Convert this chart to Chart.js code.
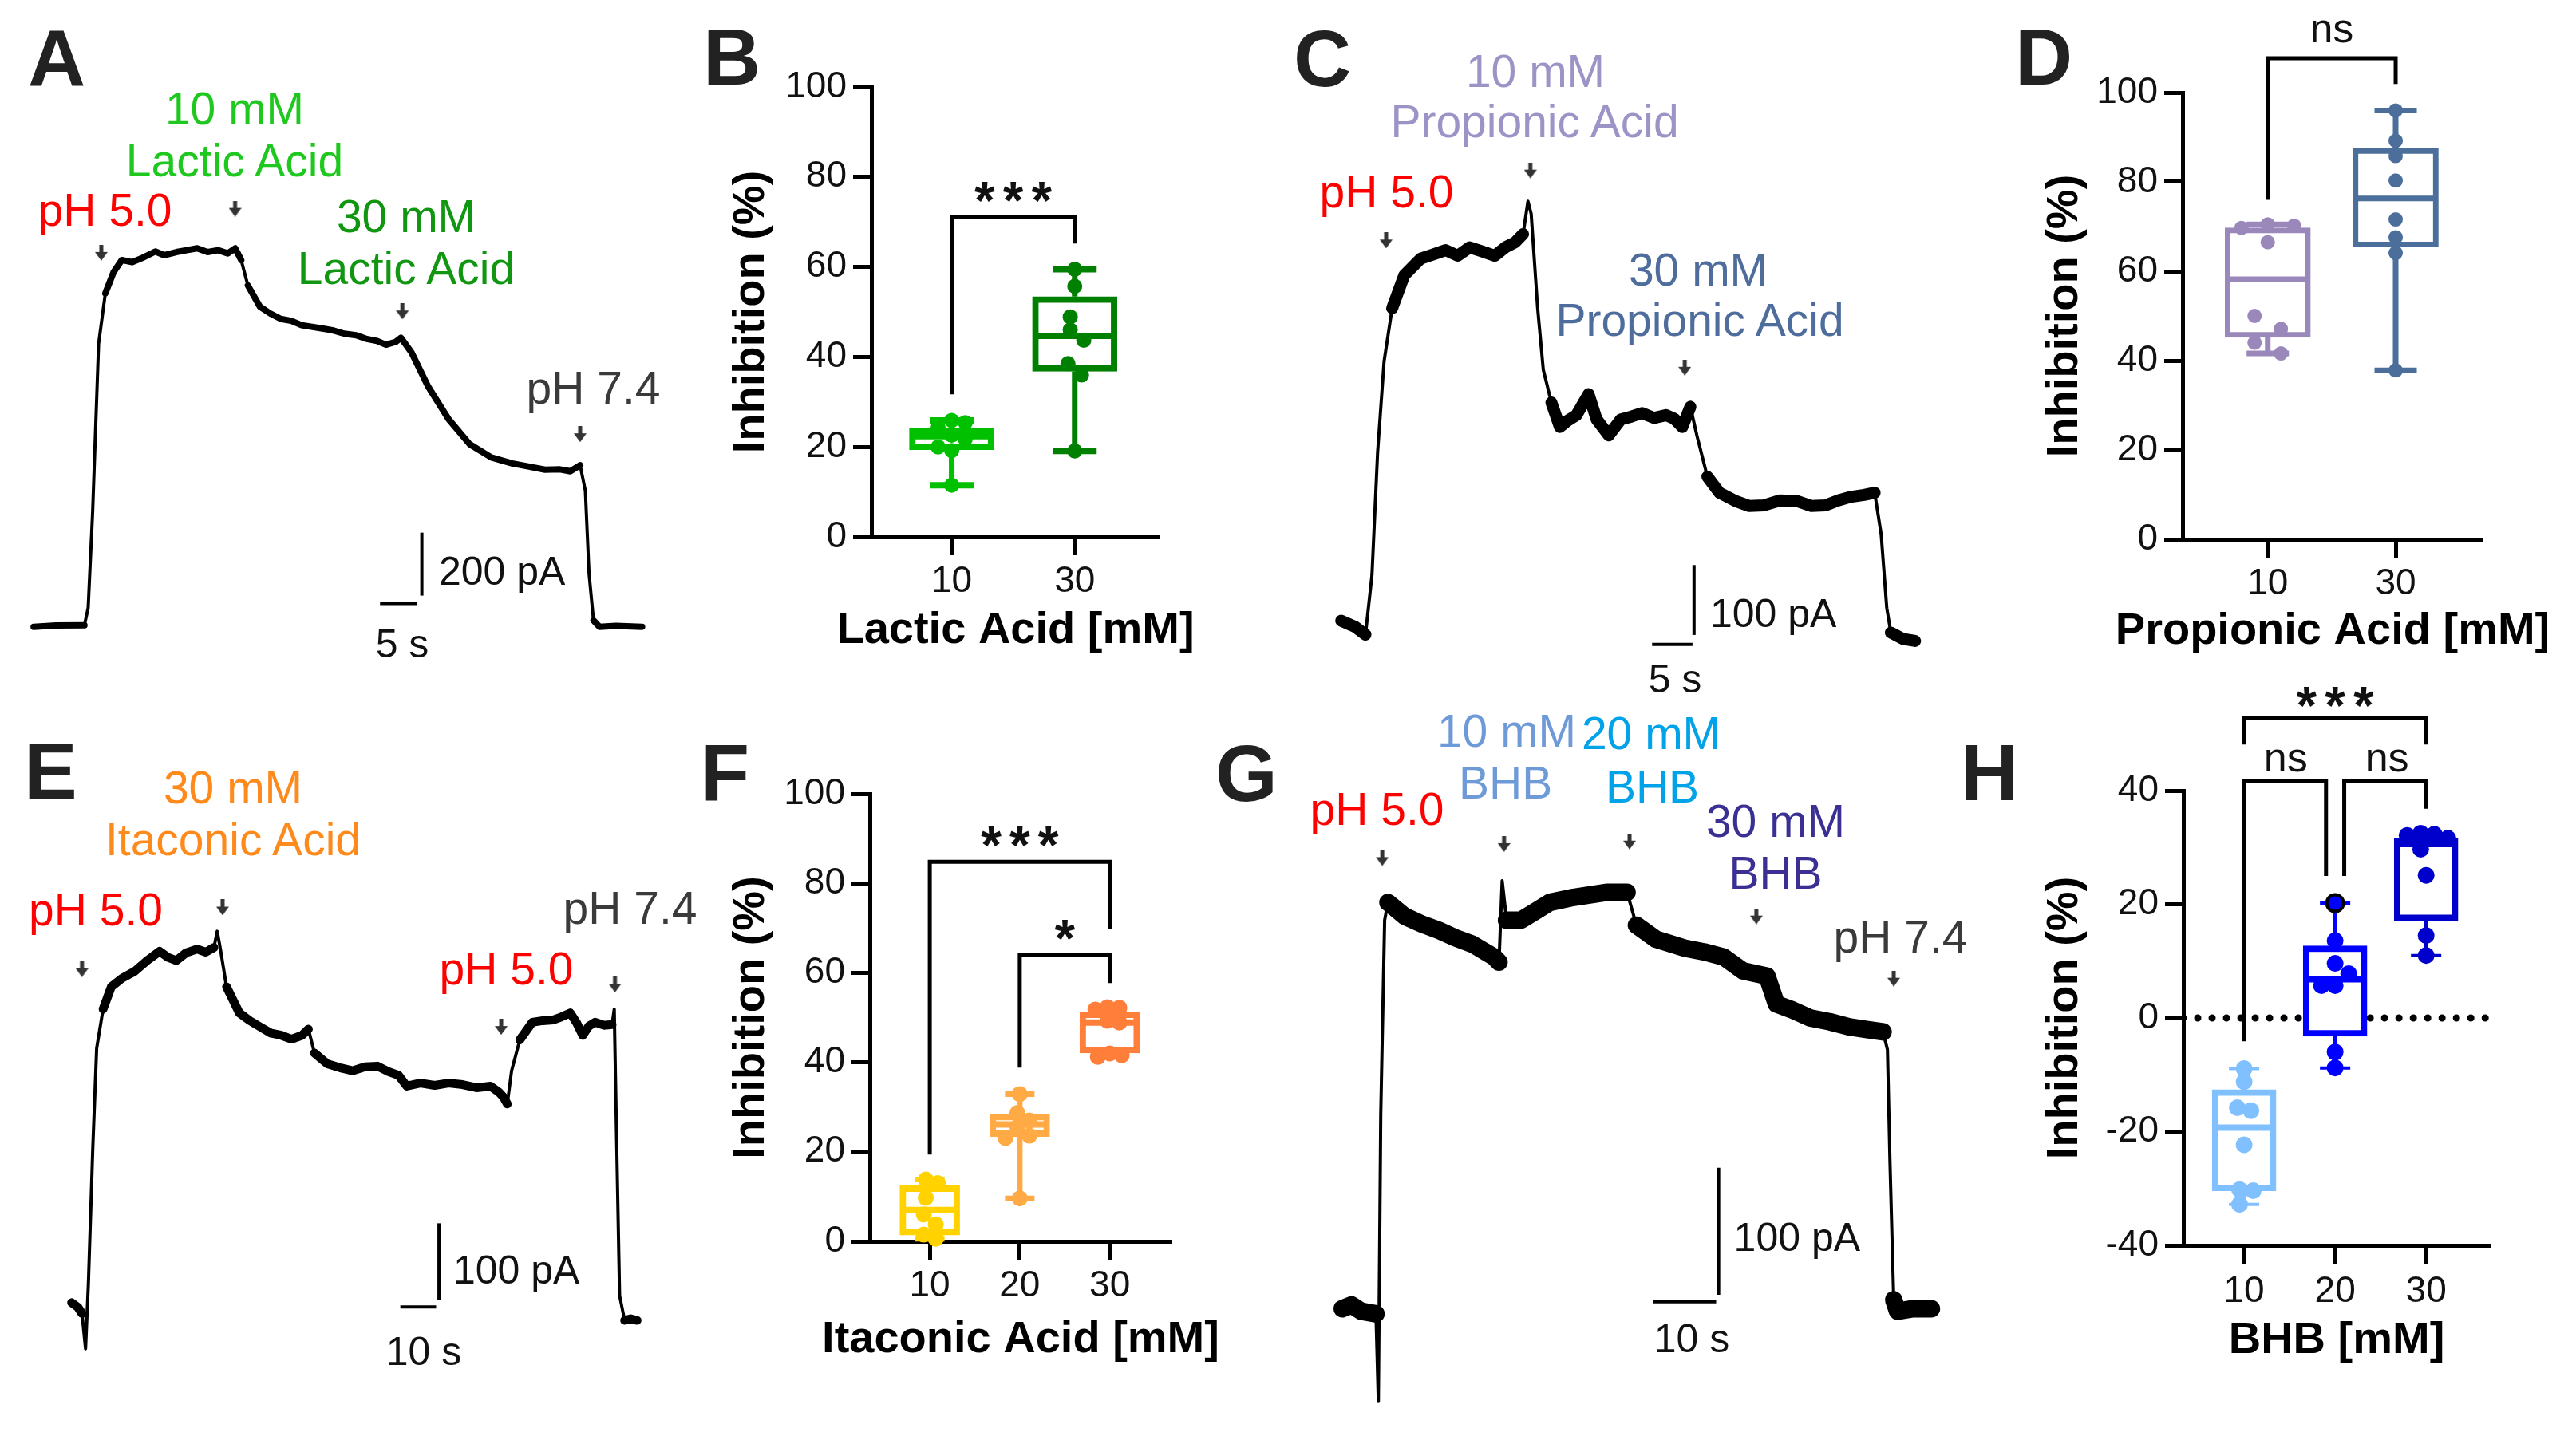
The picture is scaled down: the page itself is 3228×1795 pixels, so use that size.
<!DOCTYPE html>
<html>
<head>
<meta charset="utf-8">
<script src="https://cdn.jsdelivr.net/npm/chart.js@4.4.1/dist/chart.umd.min.js"></script>
<style>
  body { margin: 0; background: #fff; width: 3228px; height: 1795px; position: relative; overflow: hidden; }
  canvas { position: absolute; }
  .t { position: absolute; white-space: nowrap; line-height: 1; font-family: "Liberation Sans", Arial, sans-serif; }
</style>
</head>
<body>
<script>
// ---- traces: [time s, current pA] ----
const traceA = [[0,0],[3,4],[6.8,5],[7.3,60],[7.9,365],[8.7,899],[9.6,1059],[10.7,1126],[11.8,1165],[13.2,1158],[14.6,1172],[16.3,1192],[17.5,1180],[19.1,1190],[20.5,1196],[21.9,1202],[23.3,1190],[24.7,1196],[26.0,1186],[27.0,1202],[27.8,1165],[28.7,1084],[30.3,1017],[31.7,995],[33.1,978],[34.5,972],[35.9,958],[38.5,948],[40.0,942],[41.6,931],[43.2,926],[44.5,915],[46.0,908],[47.2,896],[48.5,905],[49.2,918],[50.6,872],[52.8,765],[55.6,659],[58.4,580],[61.3,538],[64.1,519],[66.5,508],[68.5,499],[70.5,500],[71.9,494],[73.2,513],[73.9,432],[74.4,168],[75.0,20],[75.8,0],[78,3],[81.5,0]];
const arrowsA = [[9.06,1188],[26.98,1328],[49.4,1002],[73.2,612]];
const barA = [[[46.4,74],[51.4,74]], [[52,99],[52,299]]];   // 5 s, 200 pA

const traceC = [[0,6],[1.75,-3],[3.0,-14],[3.8,71],[4.5,247],[5.3,377],[6.3,453],[7.8,500],[9.85,524],[11.4,530],[12.9,536],[14.4,528],[15.9,540],[17.5,534],[19.0,528],[20.3,540],[21.5,547],[22.5,559],[23.1,606],[23.5,588],[24.3,453],[25.0,365],[26.0,318],[27.05,283],[28.0,292],[29.1,300],[30.6,330],[31.6,294],[33.1,271],[34.6,294],[35.9,298],[37.2,303],[38.7,296],[40.2,300],[41.2,295],[42.2,283],[43.2,312],[44.0,271],[45.3,212],[46.8,189],[48.8,177],[50.5,170],[52.3,171],[54.3,178],[56.4,177],[58.2,170],[59.9,171],[61.5,178],[63.0,183],[64.7,186],[66.0,189],[66.8,130],[67.5,24],[68.0,-11],[69.5,-20],[71.0,-23]];
const arrowsC = [[5.55,550],[23.4,650],[42.5,368]];
const barC = [[[38.46,-27.8],[43.46,-27.8]], [[43.65,-14.4],[43.65,85.6]]];   // 5 s, 100 pA

const traceE = [[0,2],[1.76,-4],[2.9,-12],[3.9,-58],[4.7,28],[5.9,200],[7.0,332],[8.8,383],[11.1,412],[14.1,423],[17.6,432],[21.1,446],[24.6,458],[27,450],[29.3,446],[32,456],[35.1,461],[37.5,457],[39.8,463],[40.7,484],[41.6,461],[43.3,412],[46.9,378],[49.8,368],[52.7,360],[55.6,352],[58.6,349],[61.5,344],[64.4,349],[66.2,357],[67.9,326],[71.5,312],[75,307],[78.5,303],[82,308],[85.5,309],[88.5,302],[91.4,297],[93.7,283],[97.5,287],[101.5,284],[105.4,287],[109.3,285],[113.2,281],[117.1,283],[119.5,275],[120.7,269],[121.8,260],[123.0,303],[125.3,343],[128.8,366],[131.7,368],[134.7,369],[137,373],[139.4,378],[141.2,365],[142.9,349],[144.6,361],[146.4,366],[148.8,362],[151.1,363],[151.7,383],[152.3,228],[153.2,11],[154.6,-21],[156.3,-19],[158.1,-21]];
const arrowsE = [[2.9,435],[42.2,515],[120.1,360],[151.9,415]];
const barE = [[[91.9,-3.6],[101.9,-3.6]], [[102.7,5],[102.7,105]]];   // 10 s, 100 pA

const traceG = [[0,0],[1.5,3],[3.07,-2],[5.39,-4],[5.77,-73],[6.15,153],[6.77,306],[7.3,320],[10.0,309],[12.7,303],[15.4,298],[18.1,292],[20.8,287],[22.5,282],[24.2,277],[25.0,273],[25.5,337],[26.2,306],[28.5,306],[30.8,313],[33.1,320],[36.9,324],[39.6,326],[42.3,328],[45.4,328],[46.9,302],[50.0,291],[54.6,284],[57.7,281],[60.8,277],[63.9,266],[67.7,262],[69.2,240],[71.9,235],[74.6,229],[77.7,226],[80.8,222],[83.5,220],[86.2,218],[86.9,204],[87.3,116],[87.9,7],[88.5,-2],[91,0],[93.9,0]];
const arrowsG = [[6.4,355],[25.8,366],[45.8,368],[66.0,309],[87.9,260]];
const barG = [[[49.6,5.5],[59.6,5.5]], [[60.0,11],[60.0,111]]];   // 10 s, 100 pA

// ---- box plots: stats = [min, q1, median, q3, max] ----
const lacticCats = ['10', '30'];
const lacticStats = [[11.5, 19.4, 22.4, 24.1, 25.9], [19.1, 36.8, 44.7, 53.4, 59.5]];
const lacticPoints = [[25.9, 25.4, 24.3, 22.6, 21.8, 20.0, 19.2, 11.5], [59.5, 55.7, 48.9, 46.0, 43.7, 38.5, 36.0, 19.1]];
const lacticBrackets = [[1, 2, 71.0, 31.7, 65.2]];
const lacticSig = [['***', 1.5, 77.6]];

const propCats = ['10', '30'];
const propStats = [[41.6, 45.2, 58.2, 69.7, 70.5], [37.8, 65.4, 76.3, 87.5, 96.0]];
const propPoints = [[70.5, 70.2, 69.7, 66.5, 50.0, 47.1, 44.0, 41.6], [96.0, 89.2, 85.8, 80.3, 71.6, 67.6, 64.1, 37.8]];
const propBrackets = [[1, 2, 107.7, 76.0, 101.9]];
const propSig = [['ns', 1.5, 113.7]];

const itaCats = ['10', '20', '30'];
const itaStats = [[0.6, 1.4, 7.0, 12.4, 13.8], [9.6, 23.4, 26.1, 28.4, 32.9], [41.2, 42.1, 48.9, 51.3, 52.3]];
const itaPoints = [[13.8, 13.0, 9.7, 6.0, 3.8, 1.5, 0.6], [32.9, 28.7, 27.0, 25.5, 23.6, 23.1, 9.6], [52.3, 52.2, 51.8, 49.3, 48.9, 42.0, 41.6, 41.2]];
const itaBrackets = [[1, 3, 84.8, 19.4, 69.7], [2, 3, 64.0, 38.8, 57.7]];
const itaSig = [['***', 2, 91.3], ['*', 2.5, 70.4]];

const bhbCats = ['10', '20', '30'];
const bhbStats = [[-32.8, -30.4, -19.3, -12.6, -8.9], [-8.8, -3.2, 6.8, 12.7, 20.2], [11.0, 17.1, 30.6, 31.6, 32.5]];
const bhbPoints = [[-8.9, -11.2, -15.8, -16.3, -22.3, -30.2, -30.4, -32.8], [20.2, 13.6, 9.6, 7.8, 5.7, 5.7, -6.0, -8.8], [32.5, 32.3, 32.1, 31.6, 29.7, 25.1, 14.5, 11.0]];
const bhbMarked = 20.2;
const bhbBrackets = [[1, 3, 52.7, 48.1, 48.1], [1, 1.9, 41.6, -4.1, 25.0], [2.1, 3, 41.6, 25.0, 36.8]];
const bhbSig = [['***', 2, 57.1], ['ns', 1.457, 45.2], ['ns', 2.57, 45.2]];

const FAM = '"Liberation Sans", Arial, sans-serif';
Chart.defaults.font.family = FAM;
Chart.defaults.color = '#111';

function makeCanvas(left, top, w, h) {
    const cv = document.createElement('canvas');
    cv.width = w; cv.height = h;
    cv.style.left = left + 'px'; cv.style.top = top + 'px';
    cv.style.width = w + 'px'; cv.style.height = h + 'px';
    document.body.appendChild(cv);
    return cv;
}

// small down arrow used as point style
const arrowImg = document.createElement('canvas');
arrowImg.width = 16; arrowImg.height = 20;
(function () {
    const c = arrowImg.getContext('2d');
    c.fillStyle = '#333';
    c.fillRect(5.5, 0, 5, 10);
    c.beginPath(); c.moveTo(0, 9); c.lineTo(16, 9); c.lineTo(8, 20); c.closePath(); c.fill();
})();

const xy = arr => arr.map(p => ({x: p[0], y: p[1]}));

function tracePanel(g, trace, arrows, bars) {
    const cv = makeCanvas(g.left, g.top, g.w, g.h);
    const steep = c => Math.abs(c.p1.y - c.p0.y) > 3.2 * Math.abs(c.p1.x - c.p0.x);
    const datasets = [{
        type: 'line', data: xy(trace), borderColor: '#000', borderWidth: g.noise,
        pointRadius: 0, tension: 0, borderJoinStyle: 'round', borderCapStyle: 'round',
        segment: { borderWidth: c => steep(c) ? 4 : g.noise }
    }];
    bars.forEach(b => datasets.push({
        type: 'line', data: xy(b), borderColor: '#000', borderWidth: 4, pointRadius: 0, borderCapStyle: 'butt'
    }));
    datasets.push({ data: xy(arrows), pointStyle: arrowImg, pointRadius: 10 });
    new Chart(cv, {
        type: 'scatter',
        data: { datasets },
        options: {
            responsive: false, animation: false, devicePixelRatio: 1, events: [],
            layout: { padding: 0 },
            plugins: { legend: { display: false }, tooltip: { enabled: false } },
            scales: {
                x: { display: false, min: (g.left - g.x0) / g.pxS, max: (g.left + g.w - g.x0) / g.pxS },
                y: { display: false, min: (g.y0 - g.top - g.h) / g.pxA, max: (g.y0 - g.top) / g.pxA }
            }
        }
    });
}

// significance text at data coordinates + an unsqueezed x-axis title
const sigPlugin = {
    id: 'sig',
    afterDatasetsDraw(chart, args, opts) {
        const {ctx, chartArea, scales: {x, y}} = chart;
        (opts.items || []).forEach(it => {
            const star = it[0].includes('*');
            const size = star ? 66 : 52;
            ctx.save();
            ctx.font = (star ? 'bold ' : '') + size + 'px ' + FAM;
            ctx.fillStyle = '#111';
            ctx.textAlign = 'center';
            ctx.textBaseline = 'alphabetic';
            let dx = 0;
            if (star) { ctx.letterSpacing = '10px'; dx = 5; }
            ctx.fillText(it[0], x.getPixelForValue(it[1]) + dx, y.getPixelForValue(it[2]) + (star ? 0.58 : 0.26) * size);
            ctx.restore();
        });
        if (opts.xTitle) {
            ctx.save();
            ctx.font = 'bold 56px ' + FAM;
            ctx.fillStyle = '#000';
            ctx.textAlign = 'center';
            ctx.textBaseline = 'middle';
            ctx.fillText(opts.xTitle, (chartArea.left + chartArea.right) / 2, opts.xTitleY);
            ctx.restore();
        }
    }
};

function boxPanel(g, cats, stats, points, colors, brackets, sigs, xTitle, marked) {
    const cv = makeCanvas(g.left, g.top, g.w, g.h);
    const datasets = [];
    points.forEach((vals, i) => {
        const isMarked = c => marked !== undefined && i === 1 && c.raw && c.raw.y === marked;
        datasets.push({
            data: vals.map(v => ({x: i + 1, y: v})), pointRadius: g.dot,
            pointBackgroundColor: colors[i],
            pointBorderColor: c => isMarked(c) ? '#000' : colors[i],
            pointBorderWidth: c => isMarked(c) ? 4 : 0,
            order: 0, clip: false
        });
    });
    datasets.push({
        data: stats.map((s, i) => ({x: i + 1, y: s[2]})), pointStyle: 'line',
        pointRadius: (g.boxW - g.boxLw) / 2, pointBorderWidth: g.boxLw, pointBorderColor: colors,
        order: 1, clip: false
    });
    const caps = [], capCols = [];
    stats.forEach((s, i) => { caps.push({x: i + 1, y: s[0]}, {x: i + 1, y: s[4]}); capCols.push(colors[i], colors[i]); });
    datasets.push({
        data: caps, pointStyle: 'line', pointRadius: g.capW / 2, pointBorderWidth: g.capLw,
        pointBorderColor: capCols, order: 2, clip: false
    });
    datasets.push({
        type: 'bar', data: stats.map((s, i) => ({x: i + 1, y: [s[1], s[3]]})),
        barThickness: g.boxW, grouped: false, borderSkipped: false, borderWidth: g.boxLw,
        borderColor: colors, backgroundColor: '#fff', order: 3, clip: false
    });
    stats.forEach((s, i) => datasets.push({
        type: 'line', data: [{x: i + 1, y: s[3]}, {x: i + 1, y: s[4]}, {x: i + 1, y: null}, {x: i + 1, y: s[1]}, {x: i + 1, y: s[0]}],
        borderColor: colors[i], borderWidth: g.whLw, pointRadius: 0, spanGaps: false, order: 4, clip: false
    }));
    brackets.forEach(b => datasets.push({
        type: 'line', data: [{x: b[0], y: b[3]}, {x: b[0], y: b[2]}, {x: b[1], y: b[2]}, {x: b[1], y: b[4]}],
        borderColor: '#000', borderWidth: 5, pointRadius: 0, borderJoinStyle: 'miter', order: 5, clip: false
    }));
    if (g.yMin < 0) {
        datasets.push({
            type: 'line', data: [{x: g.xMin, y: 0}, {x: g.xMax, y: 0}], borderColor: '#000', borderWidth: 9,
            borderDash: [0.01, 18], borderCapStyle: 'round', pointRadius: 0, order: 6
        });
    }
    const tickFont = { size: 46, family: FAM };
    const titleFont = { size: 56, weight: 'bold', family: FAM };
    const chart = new Chart(cv, {
        type: 'scatter',
        data: { datasets },
        plugins: [sigPlugin],
        options: {
            responsive: false, animation: false, devicePixelRatio: 1, events: [],
            layout: { padding: { top: g.pt, right: g.pr, left: 0, bottom: 0 } },
            plugins: {
                legend: { display: false }, tooltip: { enabled: false },
                sig: { items: sigs, xTitle: xTitle, xTitleY: g.h - 33.6 - g.xTitlePad }
            },
            scales: {
                x: {
                    type: 'linear', min: g.xMin, max: g.xMax, offset: false,
                    afterBuildTicks: s => { s.ticks = cats.map((c, i) => ({value: i + 1})); },
                    afterFit: s => { s.height = g.xH; },
                    ticks: { callback: v => cats[Math.round(v) - 1], font: tickFont, color: '#111', padding: g.xTickPad, autoSkip: false, maxRotation: 0 },
                    grid: { offset: false, drawOnChartArea: false, drawTicks: true, tickLength: 23, tickWidth: 5, tickColor: '#000', color: '#000' },
                    border: { display: true, color: '#000', width: 5 }
                },
                y: {
                    min: g.yMin, max: g.yMax,
                    afterFit: s => { s.width = g.yW; },
                    ticks: { stepSize: 20, font: tickFont, color: '#111', padding: 8 },
                    grid: { drawOnChartArea: false, drawTicks: true, tickLength: 23, tickWidth: 5, tickColor: '#000', color: '#000' },
                    border: { display: true, color: '#000', width: 5 },
                    title: { display: true, text: 'Inhibition (%)', font: titleFont, color: '#000', padding: { top: g.yTitlePad, bottom: 0 } }
                }
            }
        }
    });
    spreadPoints(chart, points, g);
}

// lay points side by side where they would overlap
function spreadPoints(chart, groups, g) {
    const xs = chart.scales.x, ys = chart.scales.y;
    const pxPerCat = xs.getPixelForValue(2) - xs.getPixelForValue(1);
    const diam = 2 * g.dot;
    const minDist = Math.min(diam, g.spread) * 0.95;
    groups.forEach((vals, i) => {
        const placed = [];
        vals.slice().sort((a, b) => b - a).forEach(v => {
            const py = ys.getPixelForValue(v);
            let off = 0;
            for (const k of [0, 1, -1, 2, -2, 3, -3]) {
                off = k * g.spread;
                if (placed.every(p => Math.hypot(p.off - off, p.py - py) >= minDist)) break;
            }
            placed.push({v, py, off});
        });
        let start = 0;
        for (let j = 1; j <= placed.length; j++) {
            if (j === placed.length || placed[j].py - placed[j - 1].py >= diam) {
                const cl = placed.slice(start, j);
                const m = cl.reduce((s, p) => s + p.off, 0) / cl.length;
                cl.forEach(p => { p.off -= m; });
                start = j;
            }
        }
        chart.data.datasets[i].data = placed.map(p => ({x: i + 1 + p.off / pxPerCat, y: p.v}));
    });
    chart.update('none');
}

// traces
tracePanel({left: 0, top: 0, w: 860, h: 860, x0: 32, y0: 795, pxS: 9.6, pxA: 0.405, noise: 8}, traceA, arrowsA, barA);
tracePanel({left: 1585, top: 40, w: 840, h: 840, x0: 1672, y0: 792, pxS: 10.4, pxA: 0.9, noise: 15}, traceC, arrowsC, barC);
tracePanel({left: 0, top: 900, w: 860, h: 895, x0: 80.8, y0: 1642, pxS: 4.6, pxA: 0.99, noise: 11}, traceE, arrowsE, barE);
tracePanel({left: 1500, top: 860, w: 1000, h: 935, x0: 1674.7, y0: 1648, pxS: 8.04, pxA: 1.63, noise: 22}, traceG, arrowsG, barG);

// box plots
boxPanel({left: 870, top: 40, w: 640, h: 800, yW: 222, pr: 41, pt: 69, xH: 167, xMin: 0.348, xMax: 2.689, yMin: 0, yMax: 100,
          yTitlePad: 38, xTitlePad: 16, xTickPad: 6, boxW: 106, boxLw: 8, capW: 55, capLw: 8, whLw: 7, dot: 9.5, spread: 17},
         lacticCats, lacticStats, lacticPoints, ['#00c000', '#008000'], lacticBrackets, lacticSig, 'Lactic Acid [mM]');
boxPanel({left: 2530, top: 20, w: 698, h: 830, yW: 205, pr: 117, pt: 96, xH: 174, xMin: 0.334, xMax: 2.68, yMin: 0, yMax: 100,
          yTitlePad: 24, xTitlePad: 25, xTickPad: 6, boxW: 107, boxLw: 7, capW: 53, capLw: 7, whLw: 7, dot: 9, spread: 33},
         propCats, propStats, propPoints, ['#9a88bb', '#4b6e9b'], propBrackets, propSig, 'Propionic Acid [mM]');
boxPanel({left: 870, top: 920, w: 680, h: 875, yW: 220, pr: 82, pt: 75, xH: 239, xMin: 0.334, xMax: 3.686, yMin: 0, yMax: 100,
          yTitlePad: 38, xTitlePad: 82, xTickPad: 6, boxW: 75, boxLw: 8, capW: 37, capLw: 7, whLw: 7, dot: 10, spread: 15},
         itaCats, itaStats, itaPoints, ['#ffd200', '#ffaa44', '#ff7f3a'], itaBrackets, itaSig, 'Itaconic Acid [mM]');
boxPanel({left: 2530, top: 830, w: 698, h: 965, yW: 206, pr: 108, pt: 161, xH: 234, xMin: 0.3325, xMax: 3.70, yMin: -40, yMax: 40,
          yTitlePad: 24, xTitlePad: 81, xTickPad: 8, boxW: 80, boxLw: 8, capW: 38, capLw: 4, whLw: 5, dot: 10.5, spread: 17},
         bhbCats, bhbStats, bhbPoints, ['#80c0ff', '#0000ff', '#0000cc'], bhbBrackets, bhbSig, 'BHB [mM]', bhbMarked);

// text: [text, x, baseline, size, color, weight, align]
const RED = '#ff0000', GRAY = '#3a3a3a', INK = '#222';
const texts = [
    ['A', 35, 108, 100, INK, 700], ['B', 881, 106, 100, INK, 700], ['C', 1621, 108, 100, INK, 700], ['D', 2525, 106, 100, INK, 700],
    ['E', 30, 1001, 100, INK, 700], ['F', 878, 1003, 100, INK, 700], ['G', 1523, 1004, 100, INK, 700], ['H', 2457, 1003, 100, INK, 700],

    ['10 mM', 294, 156, 57, '#1ec81e', 400, 'c'], ['Lactic Acid', 294, 221, 57, '#1ec81e', 400, 'c'],
    ['pH 5.0', 131.5, 283, 57, RED, 400, 'c'],
    ['30 mM', 509, 291, 57, '#109610', 400, 'c'], ['Lactic Acid', 509, 356, 57, '#109610', 400, 'c'],
    ['pH 7.4', 743.6, 506, 57, GRAY, 400, 'c'],
    ['200 pA', 550, 733, 50, '#111', 400], ['5 s', 504, 824, 50, '#111', 400, 'c'],

    ['10 mM', 1924, 109, 57, '#9c93c6', 400, 'c'], ['Propionic Acid', 1923, 172, 57, '#9c93c6', 400, 'c'],
    ['pH 5.0', 1737.5, 260, 57, RED, 400, 'c'],
    ['30 mM', 2128, 358, 57, '#4e6d9c', 400, 'c'], ['Propionic Acid', 2130, 421, 57, '#4e6d9c', 400, 'c'],
    ['100 pA', 2143, 786, 50, '#111', 400], ['5 s', 2099, 868, 50, '#111', 400, 'c'],

    ['30 mM', 292, 1007, 57, '#ff8a1c', 400, 'c'], ['Itaconic Acid', 292, 1072, 57, '#ff8a1c', 400, 'c'],
    ['pH 5.0', 120, 1160, 57, RED, 400, 'c'], ['pH 7.4', 789.5, 1158, 57, GRAY, 400, 'c'],
    ['pH 5.0', 634.5, 1234, 57, RED, 400, 'c'],
    ['100 pA', 568, 1609, 50, '#111', 400], ['10 s', 531, 1711, 50, '#111', 400, 'c'],

    ['pH 5.0', 1725.6, 1034, 57, RED, 400, 'c'],
    ['10 mM', 1888, 936, 57, '#6f9ad8', 400, 'c'], ['BHB', 1886.6, 1001, 57, '#6f9ad8', 400, 'c'],
    ['20 mM', 2069, 939, 57, '#00a2e8', 400, 'c'], ['BHB', 2070.5, 1006, 57, '#00a2e8', 400, 'c'],
    ['30 mM', 2225, 1049, 57, '#3a3094', 400, 'c'], ['BHB', 2225, 1114, 57, '#3a3094', 400, 'c'],
    ['pH 7.4', 2381.5, 1194, 57, GRAY, 400, 'c'],
    ['100 pA', 2172.6, 1568, 50, '#111', 400], ['10 s', 2120, 1695, 50, '#111', 400, 'c']
];
texts.forEach(t => {
    const d = document.createElement('div');
    d.className = 't';
    d.textContent = t[0];
    d.style.left = t[1] + 'px';
    d.style.top = (t[2] - 0.8465 * t[3]) + 'px';
    d.style.fontSize = t[3] + 'px';
    d.style.color = t[4];
    d.style.fontWeight = t[5];
    if (t[6] === 'c') d.style.transform = 'translateX(-50%)';
    document.body.appendChild(d);
});
</script>
</body>
</html>
